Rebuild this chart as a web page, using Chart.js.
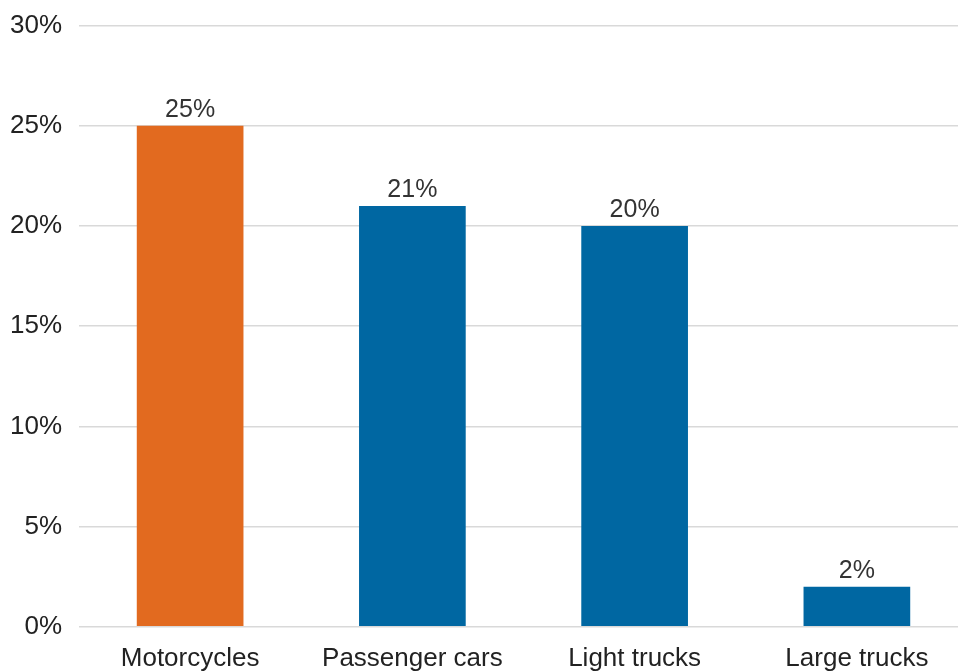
<!DOCTYPE html>
<html>
<head>
<meta charset="utf-8">
<script src="https://cdn.jsdelivr.net/npm/chart.js@4"></script>
<style>
  html, body { margin: 0; padding: 0; background: #fff; overflow: hidden; }
  #wrap { width: 968px; height: 689px; margin-top: -7px; }
</style>
</head>
<body>
<div id="wrap"><canvas id="myChart"></canvas></div>
<script>
// values
const categories = ['Motorcycles', 'Passenger cars', 'Light trucks', 'Large trucks'];
const shares = [25, 21, 20, 2];
const yTicks = [0, 5, 10, 15, 20, 25, 30];

const barColors = ['#E26A1F', '#0067A2', '#0067A2', '#0067A2'];
const fontFam = '"Liberation Sans", Arial, Helvetica, sans-serif';

// labels above the bars
const topLabels = {
  id: 'topLabels',
  afterDatasetsDraw(chart) {
    const ctx = chart.ctx;
    const meta = chart.getDatasetMeta(0);
    ctx.save();
    ctx.font = '25px ' + fontFam;
    ctx.fillStyle = '#333';
    ctx.textAlign = 'center';
    ctx.textBaseline = 'bottom';
    meta.data.forEach((bar, i) => {
      ctx.fillText(shares[i] + '%', bar.x, bar.y - 3);
    });
    ctx.restore();
  }
};

const el = document.getElementById('myChart');
let chart = new Chart(el, {
  type: 'bar',
  data: {
    labels: categories,
    datasets: [{
      data: shares,
      backgroundColor: barColors,
      barPercentage: 0.48,
      categoryPercentage: 1
    }]
  },
  options: {
    responsive: true,
    maintainAspectRatio: false,
    animation: false,
    layout: { padding: { top: 0, left: 10, right: 0, bottom: 0 } },
    plugins: {
      legend: { display: false },
      tooltip: { enabled: false }
    },
    scales: {
      x: {
        grid: { display: false },
        border: { display: false },
        ticks: { color: '#222', font: { family: fontFam, size: 26 }, padding: 8 }
      },
      y: {
        min: 0,
        max: 30,
        afterBuildTicks(axis) {
          axis.ticks = yTicks.map(v => ({ value: v }));
        },
        afterFit(axis) {
          axis.width = 69;
        },
        grid: { color: '#d9d9d9', lineWidth: 1.5, drawTicks: false },
        border: { display: false },
        ticks: {
          color: '#222',
          font: { family: fontFam, size: 26 },
          padding: 17,
          callback: v => v + '%'
        }
      }
    }
  },
  plugins: [topLabels]
});
</script>
</body>
</html>
